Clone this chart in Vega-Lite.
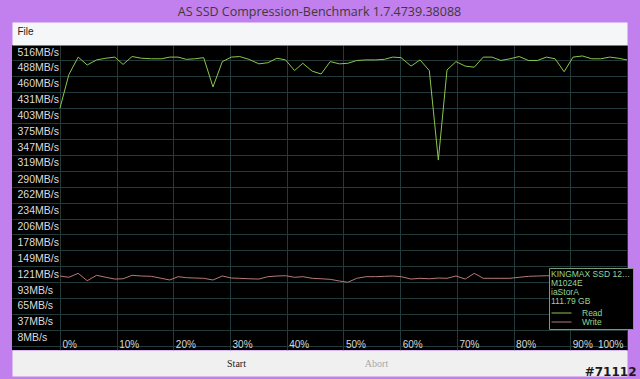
{
  "$schema": "https://vega.github.io/schema/vega-lite/v6.json",
  "width": 615,
  "height": 305,
  "autosize": {"type": "none"},
  "padding": {"left": 12, "top": 45, "right": 13, "bottom": 29},
  "background": "#c27fee",
  "title": {
    "text": "AS SSD Compression-Benchmark 1.7.4739.38088",
    "font": "Open Sans",
    "fontSize": 12.5,
    "fontWeight": "normal",
    "color": "#3a3a3a",
    "anchor": "middle",
    "baseline": "middle",
    "offset": 2
  },
  "data": {
    "values": [
      {"p": 0, "v": 416, "s": "Read"}, {"p": 1.58, "v": 476, "s": "Read"}, {"p": 3.22, "v": 507, "s": "Read"}, {"p": 4.81, "v": 493, "s": "Read"},
      {"p": 6.46, "v": 502, "s": "Read"}, {"p": 8.1, "v": 505, "s": "Read"}, {"p": 9.68, "v": 507, "s": "Read"}, {"p": 11.14, "v": 494, "s": "Read"},
      {"p": 12.73, "v": 508, "s": "Read"}, {"p": 14.38, "v": 505, "s": "Read"}, {"p": 16.14, "v": 504, "s": "Read"}, {"p": 17.9, "v": 504, "s": "Read"},
      {"p": 19.37, "v": 507, "s": "Read"}, {"p": 20.83, "v": 507, "s": "Read"}, {"p": 22.31, "v": 503, "s": "Read"}, {"p": 23.77, "v": 504, "s": "Read"},
      {"p": 25.35, "v": 506, "s": "Read"}, {"p": 26.99, "v": 454, "s": "Read"}, {"p": 28.64, "v": 499, "s": "Read"}, {"p": 30.23, "v": 507, "s": "Read"},
      {"p": 31.69, "v": 508, "s": "Read"}, {"p": 33.33, "v": 503, "s": "Read"}, {"p": 35.09, "v": 495, "s": "Read"}, {"p": 36.67, "v": 497, "s": "Read"},
      {"p": 38.26, "v": 505, "s": "Read"}, {"p": 39.79, "v": 502, "s": "Read"}, {"p": 41.37, "v": 483, "s": "Read"}, {"p": 42.83, "v": 496, "s": "Read"},
      {"p": 44.49, "v": 482, "s": "Read"}, {"p": 46.07, "v": 477, "s": "Read"}, {"p": 47.66, "v": 499, "s": "Read"}, {"p": 49.3, "v": 495, "s": "Read"},
      {"p": 50.76, "v": 496, "s": "Read"}, {"p": 52.34, "v": 501, "s": "Read"}, {"p": 54.0, "v": 502, "s": "Read"}, {"p": 55.63, "v": 502, "s": "Read"},
      {"p": 57.22, "v": 503, "s": "Read"}, {"p": 58.68, "v": 507, "s": "Read"}, {"p": 60.16, "v": 506, "s": "Read"}, {"p": 61.92, "v": 491, "s": "Read"},
      {"p": 63.5, "v": 502, "s": "Read"}, {"p": 65.14, "v": 483, "s": "Read"}, {"p": 66.73, "v": 324, "s": "Read"}, {"p": 68.26, "v": 484, "s": "Read"},
      {"p": 69.84, "v": 499, "s": "Read"}, {"p": 71.48, "v": 491, "s": "Read"}, {"p": 73.06, "v": 489, "s": "Read"}, {"p": 74.65, "v": 507, "s": "Read"},
      {"p": 76.18, "v": 507, "s": "Read"}, {"p": 77.76, "v": 501, "s": "Read"}, {"p": 79.35, "v": 504, "s": "Read"}, {"p": 80.99, "v": 508, "s": "Read"},
      {"p": 82.62, "v": 501, "s": "Read"}, {"p": 84.21, "v": 501, "s": "Read"}, {"p": 85.79, "v": 507, "s": "Read"}, {"p": 87.32, "v": 504, "s": "Read"},
      {"p": 88.91, "v": 481, "s": "Read"}, {"p": 90.49, "v": 507, "s": "Read"}, {"p": 92.13, "v": 509, "s": "Read"}, {"p": 93.79, "v": 504, "s": "Read"},
      {"p": 95.37, "v": 504, "s": "Read"}, {"p": 96.94, "v": 507, "s": "Read"}, {"p": 98.47, "v": 505, "s": "Read"}, {"p": 100, "v": 502, "s": "Read"},
      {"p": 0, "v": 118, "s": "Write"}, {"p": 1.58, "v": 115.7, "s": "Write"}, {"p": 3.22, "v": 122.8, "s": "Write"}, {"p": 4.81, "v": 109.6, "s": "Write"},
      {"p": 6.46, "v": 119.2, "s": "Write"}, {"p": 8.1, "v": 115.7, "s": "Write"}, {"p": 9.68, "v": 112.6, "s": "Write"}, {"p": 11.14, "v": 113.1, "s": "Write"},
      {"p": 12.73, "v": 119.2, "s": "Write"}, {"p": 14.38, "v": 118, "s": "Write"}, {"p": 16.14, "v": 117.4, "s": "Write"}, {"p": 17.9, "v": 113.9, "s": "Write"},
      {"p": 19.37, "v": 110.9, "s": "Write"}, {"p": 20.83, "v": 116.8, "s": "Write"}, {"p": 22.31, "v": 115, "s": "Write"}, {"p": 23.77, "v": 114.4, "s": "Write"},
      {"p": 25.35, "v": 113.9, "s": "Write"}, {"p": 26.99, "v": 110.9, "s": "Write"}, {"p": 28.64, "v": 118, "s": "Write"}, {"p": 30.23, "v": 114.4, "s": "Write"},
      {"p": 31.69, "v": 113.9, "s": "Write"}, {"p": 33.33, "v": 113.1, "s": "Write"}, {"p": 35.09, "v": 112.6, "s": "Write"}, {"p": 36.67, "v": 116.8, "s": "Write"},
      {"p": 38.26, "v": 118, "s": "Write"}, {"p": 39.79, "v": 118.5, "s": "Write"}, {"p": 41.37, "v": 115.7, "s": "Write"}, {"p": 42.83, "v": 116.8, "s": "Write"},
      {"p": 44.49, "v": 113.9, "s": "Write"}, {"p": 46.07, "v": 113.1, "s": "Write"}, {"p": 47.66, "v": 112.1, "s": "Write"}, {"p": 49.3, "v": 109.1, "s": "Write"},
      {"p": 50.76, "v": 106.8, "s": "Write"}, {"p": 52.34, "v": 113.9, "s": "Write"}, {"p": 54.0, "v": 116.8, "s": "Write"}, {"p": 55.63, "v": 116.8, "s": "Write"},
      {"p": 57.22, "v": 117.4, "s": "Write"}, {"p": 58.68, "v": 118, "s": "Write"}, {"p": 60.16, "v": 116.8, "s": "Write"}, {"p": 61.92, "v": 112.6, "s": "Write"},
      {"p": 63.5, "v": 113.9, "s": "Write"}, {"p": 65.14, "v": 113.1, "s": "Write"}, {"p": 66.73, "v": 114.4, "s": "Write"}, {"p": 68.26, "v": 113.9, "s": "Write"},
      {"p": 69.84, "v": 118, "s": "Write"}, {"p": 71.48, "v": 112.6, "s": "Write"}, {"p": 73.06, "v": 122.8, "s": "Write"}, {"p": 74.65, "v": 113.9, "s": "Write"},
      {"p": 76.18, "v": 113.9, "s": "Write"}, {"p": 77.76, "v": 113.9, "s": "Write"}, {"p": 79.35, "v": 113.9, "s": "Write"}, {"p": 80.99, "v": 115.7, "s": "Write"},
      {"p": 82.62, "v": 117.4, "s": "Write"}, {"p": 84.21, "v": 118, "s": "Write"}, {"p": 85.79, "v": 118.5, "s": "Write"}, {"p": 87.32, "v": 118, "s": "Write"},
      {"p": 88.91, "v": 118.5, "s": "Write"}, {"p": 90.49, "v": 118, "s": "Write"}, {"p": 92.13, "v": 117.4, "s": "Write"}, {"p": 93.79, "v": 118, "s": "Write"},
      {"p": 95.37, "v": 118.5, "s": "Write"}, {"p": 96.94, "v": 118, "s": "Write"}, {"p": 98.47, "v": 118, "s": "Write"}, {"p": 100, "v": 118, "s": "Write"}
    ]
  },
  "layer": [
    {
      "transform": [{"filter": "datum.s == 'Read'"}],
      "mark": {"type": "line", "strokeWidth": 1},
      "encoding": {
        "x": {
          "field": "p", "type": "quantitative",
          "scale": {"domain": [-8.45, 100], "nice": false, "zero": false},
          "axis": {
            "orient": "bottom",
            "values": [0, 10, 20, 30, 40, 50, 60, 70, 80, 90, 100],
            "grid": true, "gridColor": "#223a3a", "gridWidth": 1,
            "ticks": false, "tickSize": 0,
            "domain": true, "domainColor": "#f0f0f0", "domainWidth": 26,
            "offset": 13,
            "labelExpr": "datum.value + '%'",
            "labelFont": "Liberation Sans", "labelFontSize": 10, "labelColor": "#d8d8d8",
            "labelBaseline": "middle", "labelPadding": -19,
            "labelAlign": {"condition": {"test": "datum.value == 100", "value": "right"}, "value": "left"},
            "labelOffset": {"condition": {"test": "datum.value == 100", "value": -4}, "value": 2},
            "labelOverlap": false, "labelFlush": false, "labelBound": false,
            "title": "Start",
            "titleFont": "Liberation Serif", "titleFontSize": 10, "titleFontWeight": "normal", "titleColor": "#222222",
            "titleX": 224, "titleY": 0, "titleBaseline": "middle", "titleAlign": "center"
          }
        },
        "y": {
          "field": "v", "type": "quantitative",
          "scale": {"domain": [-13.5, 528.5], "nice": false, "zero": false},
          "axis": {
            "orient": "left",
            "values": [516, 488, 460, 431, 403, 375, 347, 319, 290, 262, 234, 206, 178, 149, 121, 93, 65, 37, 8],
            "grid": false, "ticks": false, "tickSize": 0, "domain": false,
            "labelExpr": "datum.value + 'MB/s'",
            "labelAlign": "left", "labelBaseline": "middle", "labelPadding": -5,
            "labelFont": "Liberation Sans", "labelFontSize": 10.5, "labelColor": "#dcdcdc",
            "labelOverlap": false, "labelBound": false, "labelFlush": false,
            "title": "#71112", "titleAngle": 0, "titleX": 624, "titleY": 326,
            "titleAlign": "right", "titleBaseline": "middle",
            "titleFont": "DejaVu Sans", "titleFontSize": 12, "titleFontWeight": "bold", "titleColor": "#1a1a1a"
          }
        },
        "color": {
          "field": "s", "type": "nominal",
          "scale": {"domain": ["Read", "Write"], "range": ["#8cc64e", "#b87878"]},
          "legend": {
            "orient": "none", "legendX": 537, "legendY": 223,
            "title": ["KINGMAX SSD 120G", "M1024E", "iaStorA", "111.79 GB"],
            "titleFont": "Liberation Sans", "titleFontSize": 8.5, "titleFontWeight": "normal", "titleColor": "#96d496",
            "titleLineHeight": 9, "titlePadding": 3, "titleLimit": 82,
            "labelFont": "Liberation Sans", "labelFontSize": 8.5, "labelColor": "#96d496", "labelOffset": 22,
            "symbolType": "M-1,0H4", "symbolSize": 64, "symbolStrokeWidth": 1,
            "fillColor": "#000000", "strokeColor": "#7a9a7a", "padding": 2, "rowPadding": 0, "cornerRadius": 0
          }
        }
      }
    },
    {
      "transform": [{"filter": "datum.s == 'Write'"}],
      "mark": {"type": "line", "strokeWidth": 1},
      "encoding": {
        "x": {
          "field": "p", "type": "quantitative",
          "axis": {
            "orient": "top", "values": [],
            "grid": false, "labels": false, "ticks": false,
            "domain": true, "domainColor": "#f5f6f7", "domainWidth": 23, "offset": 11.5,
            "title": "File",
            "titleFont": "Liberation Sans", "titleFontSize": 10, "titleFontWeight": "normal", "titleColor": "#222222",
            "titleX": 5, "titleY": -2, "titleAlign": "left", "titleBaseline": "middle"
          }
        },
        "y": {
          "field": "v", "type": "quantitative",
          "axis": {
            "orient": "right",
            "values": [-5.65, 22.55, 50.75, 78.95, 107.15, 135.35, 163.55, 191.75, 219.95, 248.15, 276.35, 304.55, 332.75, 360.95, 389.15, 417.35, 445.55, 473.75, 501.95],
            "grid": true, "gridColor": "#223a3a", "gridWidth": 1,
            "labels": false, "ticks": false, "domain": false,
            "title": "Abort", "titleAngle": 0, "titleX": -251, "titleY": 318,
            "titleAlign": "center", "titleBaseline": "middle",
            "titleFont": "Liberation Serif", "titleFontSize": 10, "titleFontWeight": "normal", "titleColor": "#a8a8a8"
          }
        },
        "color": {
          "field": "s", "type": "nominal",
          "legend": {
            "orient": "none", "legendX": 537, "legendY": 223,
            "title": ["KINGMAX SSD 120G", "M1024E", "iaStorA", "111.79 GB"],
            "titleFont": "Liberation Sans", "titleFontSize": 8.5, "titleFontWeight": "normal", "titleColor": "#96d496",
            "titleLineHeight": 9, "titlePadding": 3, "titleLimit": 82,
            "labelFont": "Liberation Sans", "labelFontSize": 8.5, "labelColor": "#96d496", "labelOffset": 22,
            "symbolType": "M-1,0H4", "symbolSize": 64, "symbolStrokeWidth": 1,
            "fillColor": "#000000", "strokeColor": "#7a9a7a", "padding": 2, "rowPadding": 0, "cornerRadius": 0
          }
        }
      }
    }
  ],
  "resolve": {"axis": {"x": "independent", "y": "independent"}},
  "config": {
    "view": {"fill": "#000000", "stroke": null}
  }
}
